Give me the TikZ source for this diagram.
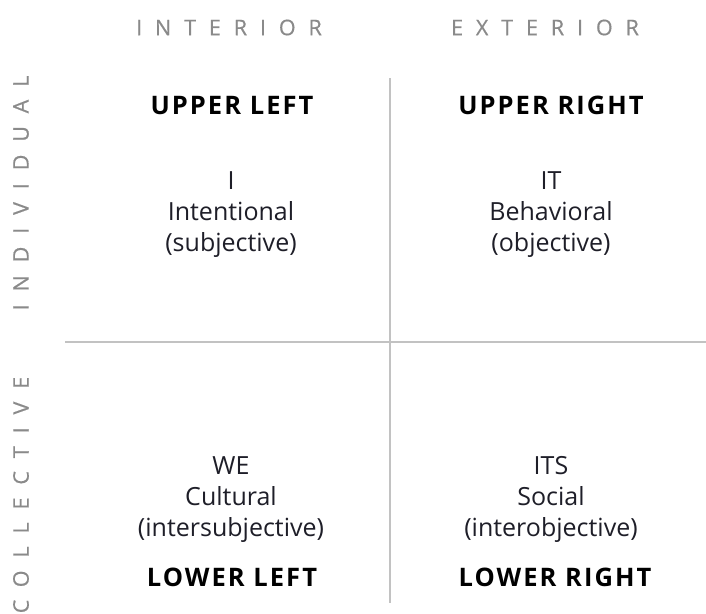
\documentclass[tikz,border=0pt]{standalone}
\usepackage{fontspec}
\setmainfont{Open Sans}
\newfontfamily\axisfont[LetterSpace=60, FakeBold=0.6]{Open Sans}
\newfontfamily\headfont[LetterSpace=8]{Open Sans}

\definecolor{axisgray}{HTML}{8A8A8A}
\definecolor{linegray}{HTML}{C2C2C2}
\definecolor{textdark}{HTML}{1E1E28}

\tikzset{
  axislabel/.style={text=axisgray, inner sep=0pt,
    font=\axisfont\fontsize{21.5}{21.5}\selectfont},
  quadhead/.style={text=black, inner sep=0pt,
    font=\headfont\bfseries\fontsize{25.5}{25.5}\selectfont},
  quadtext/.style={text=textdark, inner sep=0pt, anchor=base,
    font=\fontsize{25}{25}\selectfont},
  divider/.style={draw=linegray, line width=1.5pt},
}

\begin{document}
\begin{tikzpicture}[x=1pt, y=-1pt]
      \useasboundingbox (0,0) rectangle (706,613);

      % Column and row titles
      \node[axislabel] (interior) at (229,27.5) {INTERIOR};
      \node[axislabel] (exterior) at (545,27.5) {EXTERIOR};
      \node[axislabel, rotate=90] (individual) at (21,193) {INDIVIDUAL};
      \node[axislabel, rotate=90] (collective) at (21,495) {COLLECTIVE};

      % Dividing lines
      \coordinate (vtop) at (390,78);
      \coordinate (vbot) at (390,603);
      \coordinate (hleft) at (65,342);
      \coordinate (hright) at (706,342);
      \draw[divider] (vtop) -- (vbot);
      \draw[divider] (hleft) -- (hright);

      % Upper quadrants
      \node[quadhead] (ulhead) at (232,105.5) {UPPER LEFT};
      \node[quadhead] (urhead) at (551,105.5) {UPPER RIGHT};

      \node[quadtext] (ulpron) at (231,189) {I};
      \node[quadtext] (ulname) at (231,220) {Intentional};
      \node[quadtext] (ulview) at (231,251) {(subjective)};

      \node[quadtext] (urpron) at (551,189) {IT};
      \node[quadtext] (urname) at (551,220) {Behavioral};
      \node[quadtext] (urview) at (551,251) {(objective)};

      % Lower quadrants
      \node[quadtext] (llpron) at (231,474) {WE};
      \node[quadtext] (llname) at (231,505) {Cultural};
      \node[quadtext] (llview) at (231,536) {(intersubjective)};

      \node[quadtext] (lrpron) at (551,474) {ITS};
      \node[quadtext] (lrname) at (551,505) {Social};
      \node[quadtext] (lrview) at (551,536) {(interobjective)};

      \node[quadhead] (llhead) at (232,577) {LOWER LEFT};
      \node[quadhead] (lrhead) at (555,577) {LOWER RIGHT};
    \end{tikzpicture}
\end{document}
